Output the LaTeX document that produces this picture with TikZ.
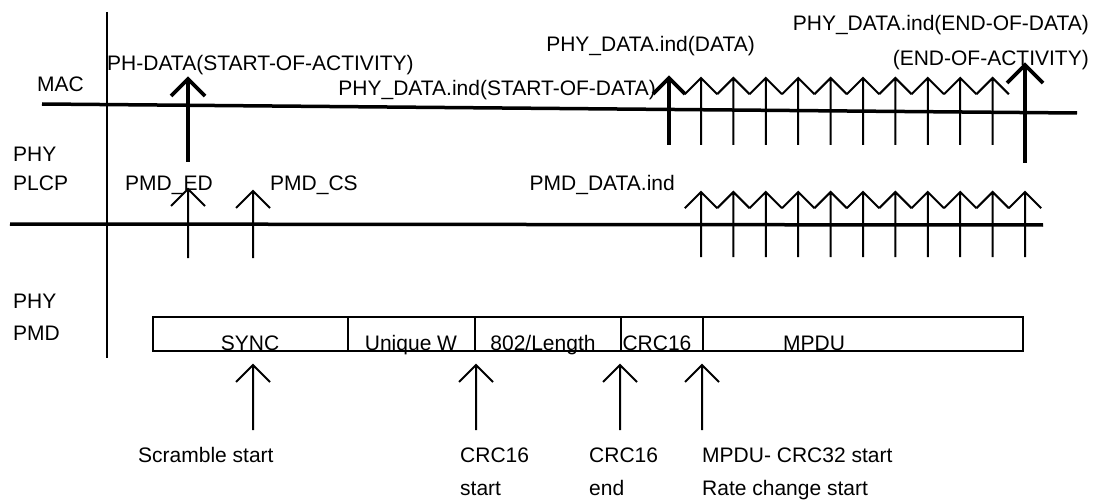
\documentclass[tikz,border=0pt]{standalone}
\usepackage{fontspec}
\setmainfont{Liberation Sans}
\usetikzlibrary{positioning}

\begin{document}
\begin{tikzpicture}[x=1pt,y=-1pt,
  txt/.style={font=\fontsize{21}{25}\selectfont,inner sep=0pt},
  layer/.style={line width=3.5pt},
  thinarr/.style={line width=2pt},
  thickarr/.style={line width=3.8pt},
  field/.style={line width=1.6pt}]
 \useasboundingbox (0,0) rectangle (1101,500);
 % layer names
 \node[txt,anchor=base west] (mac) at (37,92) {MAC};
 \node[txt,anchor=base west] (phyA) at (13,162) {PHY};
 \node[txt,anchor=base west] (plcp) at (13,191) {PLCP};
 \node[txt,anchor=base west] (phyB) at (13,308) {PHY};
 \node[txt,anchor=base west] (pmd) at (13,340) {PMD};
 % axis and layer lines
 \draw[line width=1.8pt] (107,12) -- (107,358);
 \draw[layer] (42,104) -- (1077,113);
 \draw[layer] (10,224) -- (1043,225);
 % MAC primitives
 \node[txt,anchor=base west] (startact) at (107,71) {PH-DATA(START-OF-ACTIVITY)};
 \node[txt,anchor=base east] (startdata) at (656,96) {PHY\_DATA.ind(START-OF-DATA)};
 \node[txt,anchor=base east] (data) at (755,52) {PHY\_DATA.ind(DATA)};
 \node[txt,anchor=base east] (enddata) at (1089,31) {PHY\_DATA.ind(END-OF-DATA)};
 \node[txt,anchor=base east] (endact) at (1089,66) {(END-OF-ACTIVITY)};
 \draw[thickarr] (188,162) -- (188,79) (171,96) -- (188,79) -- (205,96);
 \draw[thickarr] (669,145) -- (669,78) (653,94) -- (669,78) -- (685,94);
 \foreach \i in {0,...,9} {
   \pgfmathsetmacro\xx{701+32.4*\i}
   \draw[thinarr] (\xx,145) -- (\xx,78) (\xx-16.2,94.2) -- (\xx,78) -- (\xx+16.2,94.2);
 }
 \draw[thickarr] (1025,163) -- (1025,65) (1007,83) -- (1025,65) -- (1043,83);
 % PLCP primitives
 \node[txt,anchor=base west] (ed) at (125,190) {PMD\_ED};
 \node[txt,anchor=base west] (cs) at (270,190) {PMD\_CS};
 \node[txt,anchor=base east] (pmddata) at (675,190) {PMD\_DATA.ind};
 \draw[thinarr] (188,258) -- (188,189) (171,206) -- (188,189) -- (205,206);
 \draw[thinarr] (253,258) -- (253,191) (236,208) -- (253,191) -- (270,208);
 \foreach \i in {0,...,10} {
   \pgfmathsetmacro\xx{701+32.4*\i}
   \draw[thinarr] (\xx,257) -- (\xx,192) (\xx-16.2,208.2) -- (\xx,192) -- (\xx+16.2,208.2);
 }
 % PMD frame
 \draw[field] (153,317) rectangle (1023,351);
 \foreach \xx in {348,475,621,703}
   \draw[field] (\xx,317) -- (\xx,351);
 \node[txt,anchor=base] (sync) at (250,350) {SYNC};
 \node[txt,anchor=base] (uw) at (411,350) {Unique W};
 \node[txt,anchor=base] (len) at (543,350) {802/Length};
 \node[txt,anchor=base] (crc) at (657,350) {CRC16};
 \node[txt,anchor=base] (mpdu) at (814,350) {MPDU};
 % events
 \foreach \xx in {253,476,620,702}
   \draw[thinarr] (\xx,430) -- (\xx,365) (\xx-17,382) -- (\xx,365) -- (\xx+17,382);
 \node[txt,anchor=base west] (scr) at (138,462) {Scramble start};
 \node[txt,anchor=base west] (crcs) at (460,462) {CRC16};
 \node[txt,anchor=base west] (crcs2) at (460,495) {start};
 \node[txt,anchor=base west] (crce) at (589,462) {CRC16};
 \node[txt,anchor=base west] (crce2) at (589,495) {end};
 \node[txt,anchor=base west] (rate) at (702,462) {MPDU- CRC32 start};
 \node[txt,anchor=base west] (rate2) at (702,495) {Rate change start};
\end{tikzpicture}
\end{document}
